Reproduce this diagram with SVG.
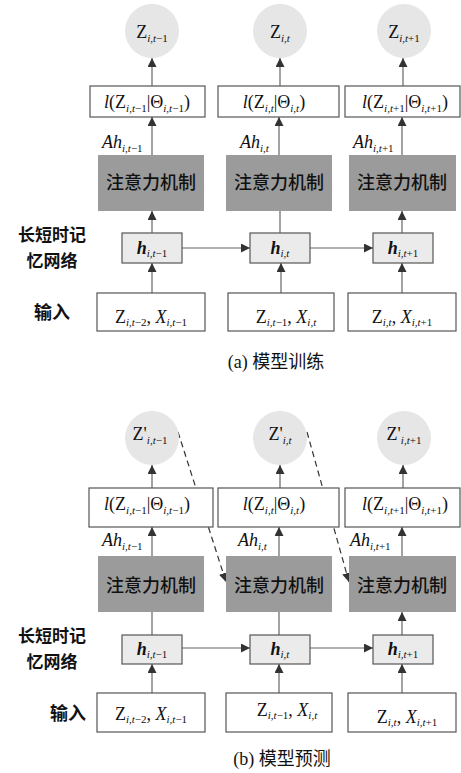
<svg xmlns="http://www.w3.org/2000/svg" width="461" height="773" viewBox="0 0 461 773">
<style>
.bx{fill:#fff;stroke:#555;stroke-width:1.2}
.gb{fill:#9b9b9b}
.hb{fill:#ebebeb;stroke:#555;stroke-width:1.2}
.ci{fill:#e6e6e6}
.m{font-family:"Liberation Serif",serif;font-size:18px;fill:#111}
.it{font-style:italic}
.sb{font-size:11px}
.cn{font-family:"Noto Sans CJK SC",sans-serif;font-size:18px;fill:#111;font-weight:500}
.lb{font-family:"Noto Sans CJK SC",sans-serif;font-size:18px;fill:#111;font-weight:700}
.lb2{font-family:"Noto Sans CJK SC",sans-serif;font-size:17px;fill:#111;font-weight:700}
.cap{font-family:"Liberation Serif","Noto Sans CJK SC",serif;font-size:18px;fill:#111}
.ln{stroke:#666;stroke-width:1.2;fill:none}
.ar{marker-end:url(#ah)}
.ds{stroke:#333;stroke-width:1.2;stroke-dasharray:6,4;fill:none;marker-end:url(#ah)}
</style>
<defs>
<marker id="ah" markerUnits="userSpaceOnUse" markerWidth="9" markerHeight="9" refX="9" refY="4.5" orient="auto"><path d="M0,0 L9,4.5 L0,9 z" fill="#333"/></marker>
</defs>

<g id="connectors">
<line class="ln ar" x1="152" y1="86" x2="152" y2="58"/>
<line class="ln ar" x1="280" y1="86" x2="280" y2="58"/>
<line class="ln ar" x1="403" y1="86" x2="403" y2="58"/>
<line class="ln ar" x1="152" y1="155" x2="152" y2="117"/>
<line class="ln ar" x1="279" y1="155" x2="279" y2="117"/>
<line class="ln ar" x1="402" y1="155" x2="402" y2="117"/>
<line class="ln ar" x1="152" y1="233" x2="152" y2="211"/>
<line class="ln" x1="280" y1="233" x2="280" y2="211"/>
<line class="ln ar" x1="402" y1="233" x2="402" y2="211"/>
<line class="ln ar" x1="182" y1="248" x2="250" y2="248"/>
<line class="ln ar" x1="310" y1="248" x2="373" y2="248"/>
<line class="ln ar" x1="152" y1="293" x2="152" y2="263"/>
<line class="ln ar" x1="281" y1="293" x2="281" y2="263"/>
<line class="ln ar" x1="402" y1="293" x2="402" y2="263"/>
<line class="ln ar" x1="152" y1="488" x2="152" y2="465"/>
<line class="ln ar" x1="280" y1="488" x2="280" y2="465"/>
<line class="ln ar" x1="403" y1="488" x2="403" y2="465"/>
<line class="ln ar" x1="152" y1="556" x2="152" y2="527"/>
<line class="ln ar" x1="279" y1="556" x2="279" y2="527"/>
<line class="ln ar" x1="402" y1="556" x2="402" y2="527"/>
<line class="ln" x1="152" y1="635" x2="152" y2="612"/>
<line class="ln" x1="279" y1="635" x2="279" y2="612"/>
<line class="ln ar" x1="402" y1="635" x2="402" y2="612"/>
<line class="ln ar" x1="182" y1="648" x2="250" y2="648"/>
<line class="ln ar" x1="310" y1="648" x2="373" y2="648"/>
<line class="ln ar" x1="152" y1="693" x2="152" y2="664"/>
<line class="ln ar" x1="279" y1="693" x2="279" y2="664"/>
<line class="ln ar" x1="402" y1="693" x2="402" y2="664"/>
<line class="ds" x1="178" y1="432" x2="226" y2="582"/>
<line class="ds" x1="307" y1="432" x2="349" y2="582"/>
</g>

<g id="labels">
<text class="lb2" x="52" y="241" text-anchor="middle">长短时记</text>
<text class="lb2" x="52" y="267" text-anchor="middle">忆网络</text>
<text class="lb" x="52" y="319" text-anchor="middle">输入</text>
<text class="cap" x="276" y="368" text-anchor="middle">(a) 模型训练</text>
<text class="lb2" x="52" y="642" text-anchor="middle">长短时记</text>
<text class="lb2" x="52" y="668" text-anchor="middle">忆网络</text>
<text class="lb" x="68" y="720" text-anchor="middle">输入</text>
<text class="cap" x="282" y="765" text-anchor="middle">(b) 模型预测</text>
</g>

<g id="a_z1"><circle class="ci" cx="152" cy="31" r="27"/><text class="m" x="152" y="38" text-anchor="middle">Z<tspan class="sb" dy="4"><tspan class="it">i,t</tspan>−1</tspan></text></g>
<g id="a_z2"><circle class="ci" cx="280" cy="31" r="27"/><text class="m" x="280" y="38" text-anchor="middle">Z<tspan class="sb it" dy="4">i,t</tspan></text></g>
<g id="a_z3"><circle class="ci" cx="404" cy="31" r="27"/><text class="m" x="404" y="38" text-anchor="middle">Z<tspan class="sb" dy="4"><tspan class="it">i,t</tspan>+1</tspan></text></g>

<g id="a_l1"><rect class="bx" x="90" y="86" width="115" height="31"/><text class="m" x="147" y="108" text-anchor="middle"><tspan class="it">l</tspan>(Z<tspan class="sb" dy="4"><tspan class="it">i,t</tspan>−1</tspan><tspan dy="-4">|Θ</tspan><tspan class="sb" dy="4"><tspan class="it">i,t</tspan>−1</tspan><tspan dy="-4">)</tspan></text></g>
<g id="a_l2"><rect class="bx" x="218" y="86" width="121" height="31"/><text class="m" x="274" y="108" text-anchor="middle"><tspan class="it">l</tspan>(Z<tspan class="sb it" dy="4">i,t</tspan><tspan dy="-4">|Θ</tspan><tspan class="sb it" dy="4">i,t</tspan><tspan dy="-4">)</tspan></text></g>
<g id="a_l3"><rect class="bx" x="345" y="86" width="115" height="31"/><text class="m" x="405" y="108" text-anchor="middle"><tspan class="it">l</tspan>(Z<tspan class="sb" dy="4"><tspan class="it">i,t</tspan>+1</tspan><tspan dy="-4">|Θ</tspan><tspan class="sb" dy="4"><tspan class="it">i,t</tspan>+1</tspan><tspan dy="-4">)</tspan></text></g>

<g id="a_ah1"><text class="m it" x="102" y="148">Ah<tspan class="sb" dy="4">i,t<tspan font-style="normal">−1</tspan></tspan></text></g>
<g id="a_ah2"><text class="m it" x="240" y="148">Ah<tspan class="sb" dy="4">i,t</tspan></text></g>
<g id="a_ah3"><text class="m it" x="353" y="148">Ah<tspan class="sb" dy="4">i,t<tspan font-style="normal">+1</tspan></tspan></text></g>

<g id="a_att1"><rect class="gb" x="98" y="155" width="106" height="56"/><text class="cn" x="151" y="189" text-anchor="middle">注意力机制</text></g>
<g id="a_att2"><rect class="gb" x="226" y="155" width="106" height="56"/><text class="cn" x="279" y="189" text-anchor="middle">注意力机制</text></g>
<g id="a_att3"><rect class="gb" x="349" y="155" width="107" height="56"/><text class="cn" x="402" y="189" text-anchor="middle">注意力机制</text></g>

<g id="a_h1"><rect class="hb" x="122" y="233" width="60" height="30"/><text class="m" x="152" y="254" text-anchor="middle"><tspan font-weight="bold" class="it">h</tspan><tspan class="sb" dy="3"><tspan class="it">i,t</tspan>−1</tspan></text></g>
<g id="a_h2"><rect class="hb" x="250" y="233" width="60" height="30"/><text class="m" x="280" y="254" text-anchor="middle"><tspan font-weight="bold" class="it">h</tspan><tspan class="sb it" dy="3">i,t</tspan></text></g>
<g id="a_h3"><rect class="hb" x="373" y="233" width="60" height="30"/><text class="m" x="403" y="254" text-anchor="middle"><tspan font-weight="bold" class="it">h</tspan><tspan class="sb" dy="3"><tspan class="it">i,t</tspan>+1</tspan></text></g>

<g id="a_in1"><rect class="bx" x="97" y="293" width="108" height="38"/><text class="m" x="151" y="323" text-anchor="middle">Z<tspan class="sb" dy="3"><tspan class="it">i,t</tspan>−2</tspan><tspan dy="-3">, </tspan><tspan class="it">X</tspan><tspan class="sb" dy="3"><tspan class="it">i,t</tspan>−1</tspan></text></g>
<g id="a_in2"><rect class="bx" x="228" y="293" width="106" height="38"/><text class="m" x="286" y="323" text-anchor="middle">Z<tspan class="sb" dy="3"><tspan class="it">i,t</tspan>−1</tspan><tspan dy="-3">, </tspan><tspan class="it">X</tspan><tspan class="sb it" dy="3">i,t</tspan></text></g>
<g id="a_in3"><rect class="bx" x="348" y="293" width="108" height="38"/><text class="m" x="402" y="323" text-anchor="middle">Z<tspan class="sb it" dy="3">i,t</tspan><tspan dy="-3">, </tspan><tspan class="it">X</tspan><tspan class="sb" dy="3"><tspan class="it">i,t</tspan>+1</tspan></text></g>

<g id="b_z1"><circle class="ci" cx="152" cy="438" r="27"/><text class="m" x="150" y="440" text-anchor="middle">Z'<tspan class="sb" dy="4"><tspan class="it">i,t</tspan>−1</tspan></text></g>
<g id="b_z2"><circle class="ci" cx="280" cy="438" r="27"/><text class="m" x="280" y="440" text-anchor="middle">Z'<tspan class="sb it" dy="4">i,t</tspan></text></g>
<g id="b_z3"><circle class="ci" cx="404" cy="438" r="27"/><text class="m" x="404" y="440" text-anchor="middle">Z'<tspan class="sb" dy="4"><tspan class="it">i,t</tspan>+1</tspan></text></g>

<g id="b_l1"><rect class="bx" x="89" y="488" width="124" height="39"/><text class="m" x="147" y="510" text-anchor="middle"><tspan class="it">l</tspan>(Z<tspan class="sb" dy="4"><tspan class="it">i,t</tspan>−1</tspan><tspan dy="-4">|Θ</tspan><tspan class="sb" dy="4"><tspan class="it">i,t</tspan>−1</tspan><tspan dy="-4">)</tspan></text></g>
<g id="b_l2"><rect class="bx" x="218" y="488" width="121" height="39"/><text class="m" x="274" y="510" text-anchor="middle"><tspan class="it">l</tspan>(Z<tspan class="sb it" dy="4">i,t</tspan><tspan dy="-4">|Θ</tspan><tspan class="sb it" dy="4">i,t</tspan><tspan dy="-4">)</tspan></text></g>
<g id="b_l3"><rect class="bx" x="345" y="488" width="115" height="39"/><text class="m" x="405" y="510" text-anchor="middle"><tspan class="it">l</tspan>(Z<tspan class="sb" dy="4"><tspan class="it">i,t</tspan>+1</tspan><tspan dy="-4">|Θ</tspan><tspan class="sb" dy="4"><tspan class="it">i,t</tspan>+1</tspan><tspan dy="-4">)</tspan></text></g>

<g id="b_ah1"><text class="m it" x="102" y="546">Ah<tspan class="sb" dy="4">i,t<tspan font-style="normal">−1</tspan></tspan></text></g>
<g id="b_ah2"><text class="m it" x="238" y="546">Ah<tspan class="sb" dy="4">i,t</tspan></text></g>
<g id="b_ah3"><text class="m it" x="350" y="546">Ah<tspan class="sb" dy="4">i,t<tspan font-style="normal">+1</tspan></tspan></text></g>

<g id="b_att1"><rect class="gb" x="98" y="556" width="106" height="56"/><text class="cn" x="151" y="592" text-anchor="middle">注意力机制</text></g>
<g id="b_att2"><rect class="gb" x="226" y="556" width="106" height="56"/><text class="cn" x="279" y="592" text-anchor="middle">注意力机制</text></g>
<g id="b_att3"><rect class="gb" x="349" y="556" width="107" height="56"/><text class="cn" x="402" y="592" text-anchor="middle">注意力机制</text></g>

<g id="b_h1"><rect class="hb" x="122" y="635" width="60" height="29"/><text class="m" x="152" y="655" text-anchor="middle"><tspan font-weight="bold" class="it">h</tspan><tspan class="sb" dy="3"><tspan class="it">i,t</tspan>−1</tspan></text></g>
<g id="b_h2"><rect class="hb" x="250" y="635" width="60" height="29"/><text class="m" x="280" y="655" text-anchor="middle"><tspan font-weight="bold" class="it">h</tspan><tspan class="sb it" dy="3">i,t</tspan></text></g>
<g id="b_h3"><rect class="hb" x="373" y="635" width="60" height="29"/><text class="m" x="403" y="655" text-anchor="middle"><tspan font-weight="bold" class="it">h</tspan><tspan class="sb" dy="3"><tspan class="it">i,t</tspan>+1</tspan></text></g>

<g id="b_in1"><rect class="bx" x="97" y="693" width="108" height="39"/><text class="m" x="151" y="720" text-anchor="middle">Z<tspan class="sb" dy="3"><tspan class="it">i,t</tspan>−2</tspan><tspan dy="-3">, </tspan><tspan class="it">X</tspan><tspan class="sb" dy="3"><tspan class="it">i,t</tspan>−1</tspan></text></g>
<g id="b_in2"><rect class="bx" x="226" y="693" width="106" height="39"/><text class="m" x="287" y="716" text-anchor="middle">Z<tspan class="sb" dy="3"><tspan class="it">i,t</tspan>−1</tspan><tspan dy="-3">, </tspan><tspan class="it">X</tspan><tspan class="sb it" dy="3">i,t</tspan></text></g>
<g id="b_in3"><rect class="bx" x="348" y="693" width="108" height="39"/><text class="m" x="407" y="723" text-anchor="middle">Z<tspan class="sb it" dy="3">i,t</tspan><tspan dy="-3">, </tspan><tspan class="it">X</tspan><tspan class="sb" dy="3"><tspan class="it">i,t</tspan>+1</tspan></text></g>
</svg>
